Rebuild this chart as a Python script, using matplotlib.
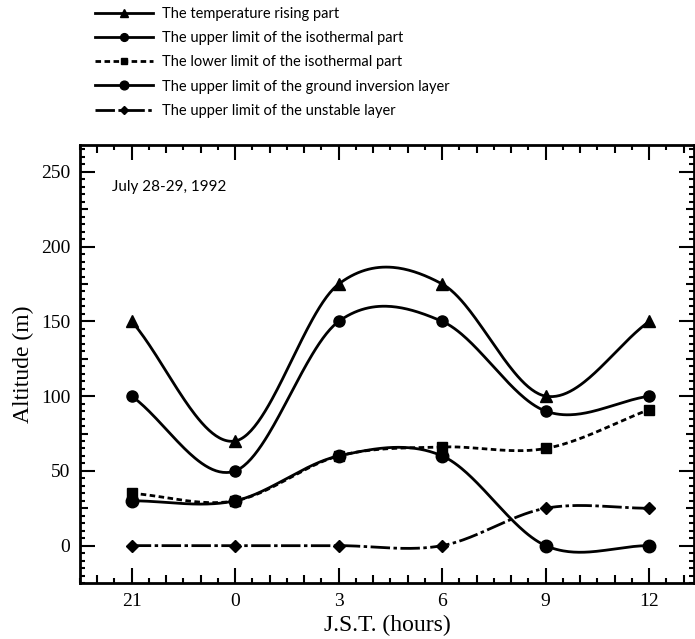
import numpy as np
import matplotlib
matplotlib.use("Agg")
import matplotlib.pyplot as plt
from matplotlib.ticker import MultipleLocator
from matplotlib.lines import Line2D

plt.rcParams["lines.scale_dashes"] = False

# J.S.T. hours, 21 h of July 28 drawn as -3
hours = [-3, 0, 3, 6, 9, 12]
hour_labels = ["21", "0", "3", "6", "9", "12"]
temp_rising = [150, 70, 175, 175, 100, 150]
iso_upper = [100, 50, 150, 150, 90, 100]
iso_lower = [35, 30, 60, 66, 65, 91]
inversion_upper = [30, 30, 60, 60, 0, 0]
unstable_upper = [0, 0, 0, 0, 25, 25]
alt_ticks = [0, 50, 100, 150, 200, 250]

series = [
    ("The temperature rising part", temp_rising, "^", 8, "-"),
    ("The upper limit of the isothermal part", iso_upper, "o", 8, "-"),
    ("The lower limit of the isothermal part", iso_lower, "s", 6.5, (0, (4, 2.5))),
    ("The upper limit of the ground inversion layer", inversion_upper, "o", 9, "-"),
    ("The upper limit of the unstable layer", unstable_upper, "D", 6, (0, (14, 2.5, 2.5, 2.5))),
]


def smooth_curve(x, y, n=60):
    """cardinal (Catmull-Rom) curve through the points, like the original plot"""
    x = np.asarray(x, float); y = np.asarray(y, float)
    m = np.empty_like(y)
    m[1:-1] = (y[2:] - y[:-2]) / (x[2:] - x[:-2])
    m[0] = (y[1] - y[0]) / (x[1] - x[0]); m[-1] = (y[-1] - y[-2]) / (x[-1] - x[-2])
    xs, ys = [], []
    for i in range(len(x) - 1):
        h = x[i + 1] - x[i]
        s = np.linspace(0, 1, n)
        h00 = 2 * s**3 - 3 * s**2 + 1; h10 = s**3 - 2 * s**2 + s
        h01 = -2 * s**3 + 3 * s**2; h11 = s**3 - s**2
        xs.append(x[i] + s * h)
        ys.append(h00 * y[i] + h10 * h * m[i] + h01 * y[i + 1] + h11 * h * m[i + 1])
    return np.concatenate(xs), np.concatenate(ys)


fig = plt.figure(figsize=(6.95, 6.39), dpi=100)
ax = fig.add_axes([80 / 695, 56 / 639, 614 / 695, 438 / 639])

handles, labels = [], []
for label, vals, mk, ms, ls in series:
    xs, ys = smooth_curve(hours, vals)
    ax.plot(xs, ys, color="k", lw=2.0, ls=ls)
    ax.plot(hours, vals, ls="none", marker=mk, ms=ms, color="k")
    handles.append(Line2D([], [], color="k", lw=2.0, ls=ls, marker=mk, ms=ms * 0.7))
    labels.append(label)

ax.set_xlim(-4.5, 13.3)
ax.set_ylim(-25, 268)

xloc = np.arange(-4, 14, 1)
ax.set_xticks(xloc, [hour_labels[hours.index(v)] if v in hours else "" for v in xloc])
ax.xaxis.set_minor_locator(MultipleLocator(0.5))
yloc = np.arange(0, 275, 25)
ax.set_yticks(yloc, [str(v) if v in alt_ticks else "" for v in yloc])
ax.yaxis.set_minor_locator(MultipleLocator(5))
ax.tick_params(which="both", direction="in", top=True, right=True, width=1.5, color="k")
ax.tick_params(which="major", length=7, labelsize=14, pad=7)
ax.tick_params(which="minor", length=3.5)
for tk, v in zip(ax.xaxis.get_major_ticks(), xloc):
    L = 11 if v in hours else 6
    tk.tick1line.set_markersize(L); tk.tick2line.set_markersize(L)
for tk, v in zip(ax.yaxis.get_major_ticks(), yloc):
    L = 11 if v in alt_ticks else 6
    tk.tick1line.set_markersize(L); tk.tick2line.set_markersize(L)
for lab in ax.get_xticklabels() + ax.get_yticklabels():
    lab.set_family("Liberation Serif")
for sp in ax.spines.values():
    sp.set_linewidth(2.0)

ax.set_xlabel("J.S.T. (hours)", family="Liberation Serif", fontsize=17, labelpad=4)
ax.set_ylabel("Altitude (m)", family="Liberation Serif", fontsize=17, labelpad=5)
ax.text(0.052, 0.904, "July 28-29, 1992", transform=ax.transAxes, fontsize=11,
        family="Lato", va="center", ha="left")

fig.legend(handles, labels, loc="upper left", bbox_to_anchor=(92 / 695, 1.0 - 4 / 639),
           frameon=False, prop={"family": "Lato", "size": 10.5}, handlelength=4.0,
           handletextpad=0.6, labelspacing=0.7, borderpad=0.2, borderaxespad=0.0)

fig.savefig("out.png", dpi=100)
